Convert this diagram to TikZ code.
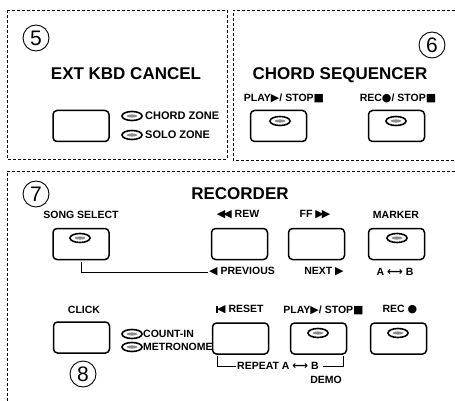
\documentclass[tikz,border=0pt]{standalone}
\usepackage{fontspec}
\setmainfont{Liberation Sans}
\newfontfamily\symfam{DejaVu Sans}
\usetikzlibrary{shapes.geometric}
\newcommand\myplay{{\symfam\fontsize{11}{11}\selectfont ▶}}
\newcommand\myleft{{\symfam\fontsize{11}{11}\selectfont ◀}}
\newcommand\mystop{{\symfam\fontsize{11}{11}\selectfont ■}}
\newcommand\myrec{{\symfam\fontsize{11}{11}\selectfont ●}}
\newcommand\mylr{{\symfam\fontsize{11}{11}\selectfont ⟷}}
\newcommand\myreset{\rule[0.2pt]{1.3pt}{7pt}\kern-0.6pt\myleft}
\begin{document}
\begin{tikzpicture}[x=1pt,y=-1pt,
  panel/.style={densely dashed,line width=0.7pt},
  btn/.style={draw,rounded corners=4pt,line width=1.5pt,minimum width=56pt,minimum height=31pt,inner sep=0pt},
  led/.style={ellipse,draw,line width=1.6pt,fill=white,minimum width=20pt,minimum height=9pt,inner sep=0pt,
    path picture={\fill[black!45] (path picture bounding box.center) ellipse (5.5pt and 1.6pt);}},
  heading/.style={font=\fontsize{17}{17}\selectfont\bfseries,inner sep=1pt},
  lbl/.style={font=\fontsize{10.5}{10.5}\selectfont\bfseries,inner sep=1pt},
  ledlbl/.style={font=\fontsize{11}{11}\selectfont\bfseries,inner sep=1pt,anchor=west},
  num/.style={circle,draw,line width=0.9pt,minimum size=26pt,inner sep=0pt,font=\fontsize{21}{21}\selectfont},
  conn/.style={line width=0.9pt}]
\useasboundingbox (0,0) rectangle (455,401);
% panels
\draw[panel] (7,10) rectangle (227,159);
\draw[panel] (470,10) -- (233,10) -- (233,160) -- (470,160);
\draw[panel] (470,171) -- (7,171) -- (7,410);
% numbers
\node[num] (n5) at (36,38) {5};
\node[num] (n6) at (432,45) {6};
\node[num] (n7) at (36,194) {7};
\node[num] (n8) at (83,374) {8};
% EXT KBD CANCEL
\node[heading] (hext) at (126,74) {EXT KBD CANCEL};
\node[btn] (extbtn) at (81,126) {};
\node[led] (ledcz) at (132,116) {};
\node[ledlbl] (lcz) at (144,116) {CHORD ZONE};
\node[led] (ledsz) at (132,135) {};
\node[ledlbl] (lsz) at (144,135) {SOLO ZONE};
% CHORD SEQUENCER
\node[heading] (hcs) at (340,75) {CHORD SEQUENCER};
\node[lbl] (lcsplay) at (284,98) {PLAY\myplay/ STOP\mystop};
\node[btn] (csplay) at (278.5,126) {};
\node[led] (ledcsplay) at (280,121) {};
\node[lbl] (lcsrec) at (398,98) {REC\myrec/ STOP\mystop};
\node[btn] (csrec) at (396.5,126) {};
\node[led] (ledcsrec) at (396,121) {};
% RECORDER
\node[heading] (hrec) at (240,194) {RECORDER};
\node[lbl] (lsong) at (81,215) {SONG SELECT};
\node[btn] (songbtn) at (81,244) {};
\node[led] (ledsong) at (80,238) {};
\node[lbl] (lrew) at (238,215) {\myleft\kern-2pt\myleft\ REW};
\node[btn] (rewbtn) at (239.5,244) {};
\node[lbl] (lff) at (315,215) {FF \myplay\kern-2pt\myplay};
\node[btn] (ffbtn) at (316.5,244) {};
\node[lbl] (lmark) at (396,215) {MARKER};
\node[btn] (markbtn) at (396.5,244) {};
\node[led] (ledmark) at (397,238) {};
\node[lbl,anchor=west] (lprev) at (208,272) {\myleft\ PREVIOUS};
\node[lbl] (lnext) at (324,272) {NEXT \myplay};
\node[lbl] (lab) at (395,272) {A \mylr\ B};
\draw[conn] ([yshift=-2pt]songbtn.south) |- (lprev.west);
% second row
\node[lbl] (lclick) at (84,310) {CLICK};
\node[btn] (clickbtn) at (81.5,337.5) {};
\node[led] (ledci) at (132,334) {};
\node[ledlbl,font=\fontsize{10.5}{10.5}\selectfont\bfseries] (lci) at (142,334) {COUNT-IN};
\node[led] (ledmet) at (132,347) {};
\node[ledlbl,font=\fontsize{10.5}{10.5}\selectfont\bfseries] (lmet) at (142,347) {METRONOME};
\node[lbl] (lreset) at (240,310) {\myreset\ RESET};
\node[btn] (resetbtn) at (240.5,338.5) {};
\node[lbl] (lplay) at (323.5,310) {PLAY\myplay/ STOP\mystop};
\node[btn] (playbtn) at (318.5,338.5) {};
\node[led] (ledplay) at (318,333) {};
\node[lbl] (lrecb) at (400,310) {REC \myrec};
\node[btn] (recbtn) at (398.5,338.5) {};
\node[led] (ledrec) at (398,333) {};
\node[lbl,anchor=west] (lrep) at (236,366) {REPEAT A \mylr\ B};
\coordinate (repend) at ([xshift=3pt]lrep.east);
\draw[conn] ([xshift=6pt,yshift=-1pt]resetbtn.south west) |- (lrep.west);
\draw[conn] (repend) -| ([xshift=-4pt,yshift=-1pt]playbtn.south east);
\node[lbl] (ldemo) at (326,380) {DEMO};
\end{tikzpicture}
\end{document}
